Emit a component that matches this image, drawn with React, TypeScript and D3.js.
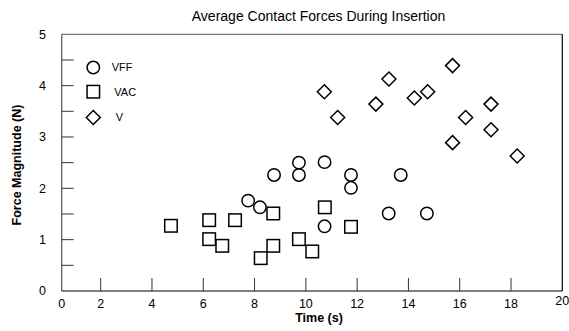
import React from "react";
import * as d3 from "d3";

const vffX = [7.75, 8.21, 8.76, 9.73, 9.73, 10.73, 10.73, 11.76, 11.76, 13.23, 13.7, 14.72];
const vffY = [1.76, 1.63, 2.26, 2.26, 2.5, 2.51, 1.26, 2.26, 2.01, 1.51, 2.26, 1.51];

const vacX = [4.74, 6.23, 6.23, 6.74, 7.24, 8.24, 8.73, 8.73, 9.73, 10.25, 10.74, 11.76];
const vacY = [1.27, 1.38, 1.01, 0.88, 1.38, 0.64, 1.51, 0.88, 1.01, 0.77, 1.63, 1.25];

const vX = [10.72, 11.24, 12.73, 13.24, 14.23, 14.75, 15.72, 15.72, 16.23, 17.22, 17.22, 18.24];
const vY = [3.88, 3.38, 3.64, 4.13, 3.76, 3.88, 4.39, 2.89, 3.38, 3.64, 3.14, 2.63];

const xTicks = [2, 4, 6, 8, 10, 12, 14, 16, 18];
const yTicks = [0, 1, 2, 3, 4, 5];
const yMinorTicks = [0.5, 1, 1.5, 2, 2.5, 3, 3.5, 4, 4.5];

const legendNames = ["VFF", "VAC", "V"];
const title = "Average Contact Forces During Insertion";
const xTitle = "Time (s)";
const yTitle = "Force Magnitude  (N)";

const W = 569;
const H = 331;
const FONT = "'Liberation Sans', Arial, Helvetica, sans-serif";

export default function App() {
  const x = d3.scaleLinear().domain([0, 20]).range([49.4, 562.3]);
  const y = d3.scaleLinear().domain([0, 5]).range([291, 34.3]);
  const left = 61.7;
  const right = x(20);
  const top = y(5);
  const bottom = y(0);
  const tickLen = 12;
  const r = 6.2;
  const sq = 12.5;
  const dg = 7;

  const circle = (cx: number, cy: number, k: string) => (
    <circle key={k} cx={cx} cy={cy} r={r} fill="none" stroke="#000" strokeWidth={1.5} />
  );
  const square = (cx: number, cy: number, k: string) => (
    <rect key={k} x={cx - sq / 2} y={cy - sq / 2} width={sq} height={sq} fill="none" stroke="#000" strokeWidth={1.5} />
  );
  const diamond = (cx: number, cy: number, k: string) => (
    <path
      key={k}
      d={`M${cx},${cy - dg}L${cx + dg},${cy}L${cx},${cy + dg}L${cx - dg},${cy}Z`}
      fill="none"
      stroke="#000"
      strokeWidth={1.5}
    />
  );

  const legendY = [67.5, 91.7, 117.5];
  const legendTextX = [111.7, 114.3, 115.7];

  return (
    <div style={{ position: "absolute", left: 0, top: 0 }}>
      <svg width={W} height={H} style={{ display: "block", background: "#fff" }} fontFamily={FONT}>
        <rect width={W} height={H} fill="#fff" />
        <text x={318.5} y={20.5} textAnchor="middle" fontSize={14} fill="#000">
          {title}
        </text>
        {/* frame */}
        <line x1={left} x2={right} y1={top} y2={top} stroke="#777" strokeWidth={1.2} />
        <line x1={left} x2={left} y1={top} y2={bottom} stroke="#555" strokeWidth={1.2} />
        <line x1={right} x2={right} y1={top} y2={bottom} stroke="#000" strokeWidth={1.2} />
        <line x1={left} x2={right} y1={bottom} y2={bottom} stroke="#000" strokeWidth={1.2} />
        {/* y ticks */}
        {yMinorTicks.map((t) => (
          <line key={"yt" + t} x1={left} x2={left + tickLen} y1={y(t)} y2={y(t)} stroke="#333" strokeWidth={1} />
        ))}
        {yTicks.map((t) => (
          <text key={"yl" + t} x={46} y={y(t)} dy="0.35em" textAnchor="end" fontSize={12.5} fill="#000">
            {t}
          </text>
        ))}
        {/* x ticks */}
        {xTicks.map((t) => (
          <line key={"xt" + t} x1={x(t)} x2={x(t)} y1={bottom} y2={bottom - 13} stroke="#333" strokeWidth={1} />
        ))}
        {xTicks.map((t) => (
          <text key={"xl" + t} x={x(t)} y={307.5} textAnchor="middle" fontSize={12.5} fill="#000">
            {t}
          </text>
        ))}
        <text x={left} y={307.5} textAnchor="middle" fontSize={12.5} fill="#000">
          0
        </text>
        <text x={right} y={305} textAnchor="middle" fontSize={12.5} fill="#000">
          20
        </text>
        <text x={319} y={322} textAnchor="middle" fontSize={12.5} fontWeight="bold" fill="#000">
          {xTitle}
        </text>
        <text
          transform={`translate(21,165) rotate(-90)`}
          textAnchor="middle"
          fontSize={12.5}
          fontWeight="bold"
          fill="#000"
        >
          {yTitle}
        </text>
        {/* data */}
        {vffX.map((v, i) => circle(x(v), y(vffY[i]), "c" + i))}
        {vacX.map((v, i) => square(x(v), y(vacY[i]), "s" + i))}
        {vX.map((v, i) => diamond(x(v), y(vY[i]), "d" + i))}
        {/* legend */}
        {circle(93.3, legendY[0], "lc")}
        {square(93.3, legendY[1], "ls")}
        {diamond(93.3, legendY[2], "ld")}
        {legendNames.map((n, i) => (
          <text key={n} x={legendTextX[i]} y={legendY[i]} dy="0.35em" fontSize={11} fill="#000">
            {n}
          </text>
        ))}
      </svg>
    </div>
  );
}
